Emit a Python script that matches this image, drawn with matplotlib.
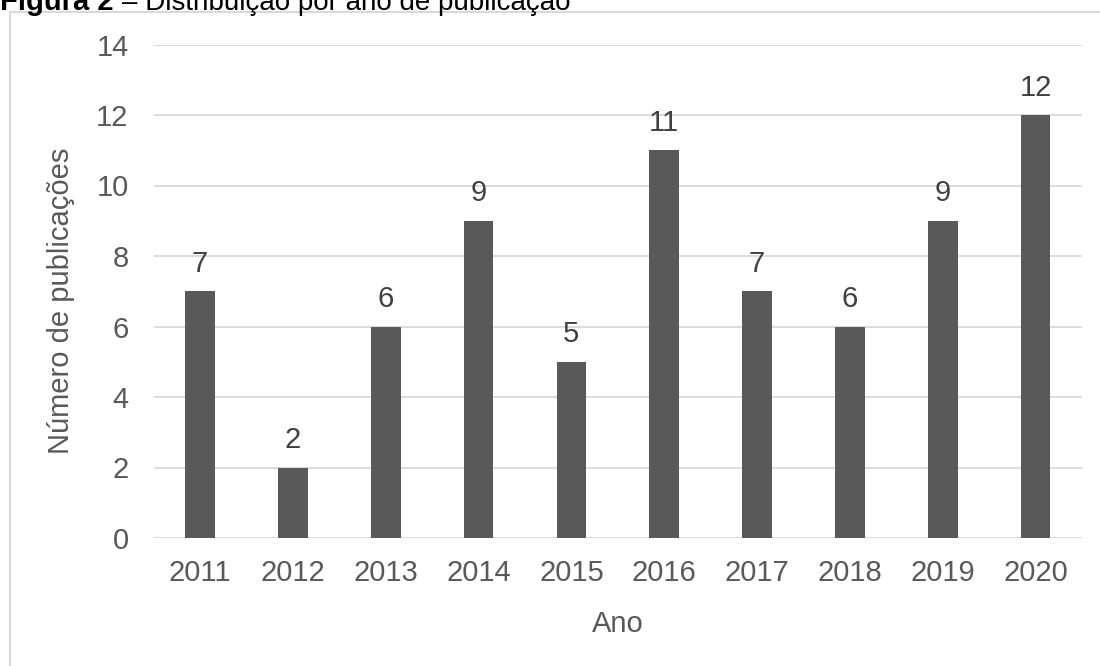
"""
Figura 2 - Distribuição por ano de publicação.

Bar chart of the number of publications per year, Excel-like styling.
"""

import matplotlib
matplotlib.use("Agg")
import matplotlib.pyplot as plt
from matplotlib.lines import Line2D

# Data
YEARS = ["2011", "2012", "2013", "2014", "2015", "2016", "2017", "2018", "2019", "2020"]
PUBLICATIONS = [7, 2, 6, 9, 5, 11, 7, 6, 9, 12]
Y_TICKS = [0, 2, 4, 6, 8, 10, 12, 14]

TITLE_BOLD = "Figura 2"
TITLE_REST = "– Distribuição por ano de publicação"
X_LABEL = "Ano"
Y_LABEL = "Número de publicações"

BAR_COLOR = "#595959"
GRID_COLOR = "#d9d9d9"
TICK_COLOR = "#595959"
LABEL_COLOR = "#404040"
FONT_SIZE = 21

plt.rcParams['font.family'] = ['Liberation Sans', 'DejaVu Sans']

W, H = 1100, 666


def main():
    fig = plt.figure(figsize=(W / 100, H / 100), dpi=100)
    ax = fig.add_axes([153.6 / W, 1 - 538 / H, (1082 - 153.6) / W, (538 - 44.5) / H])

    x = range(len(YEARS))
    ax.bar(x, PUBLICATIONS, width=0.32, color=BAR_COLOR, zorder=3)

    for xi, v in zip(x, PUBLICATIONS):
        ax.annotate(str(v), (xi, v), xytext=(0, 14), textcoords="offset points",
                    ha="center", va="baseline", fontsize=FONT_SIZE, color=LABEL_COLOR)

    ax.set_xlim(-0.5, len(YEARS) - 0.5)
    ax.set_ylim(0, 14)
    ax.set_yticks(Y_TICKS)
    ax.set_xticks(list(x))
    ax.set_xticklabels(YEARS)
    ax.tick_params(axis="both", length=0, labelsize=FONT_SIZE, labelcolor=TICK_COLOR)
    ax.tick_params(axis="y", pad=18)
    ax.tick_params(axis="x", pad=15)

    ax.grid(axis="y", color=GRID_COLOR, linewidth=1.3, zorder=0)
    for s in ax.spines.values():
        s.set_visible(False)

    ax.set_xlabel(X_LABEL, fontsize=FONT_SIZE, color=TICK_COLOR, labelpad=17)
    ax.set_ylabel(Y_LABEL, fontsize=FONT_SIZE, color=TICK_COLOR)
    ax.yaxis.set_label_coords(-0.085, 0.48)

    # Frame around the figure area
    fig.add_artist(Line2D([9.5 / W, 9.5 / W], [0, 1 - 12 / H], transform=fig.transFigure,
                          color=GRID_COLOR, linewidth=1.5))
    fig.add_artist(Line2D([9.5 / W, 1], [1 - 12 / H, 1 - 12 / H], transform=fig.transFigure,
                          color=GRID_COLOR, linewidth=1.5))

    # Caption, cut at the top edge like the source
    fig.text(0, 1 - 10 / H, TITLE_BOLD, fontsize=21, fontweight="bold",
             color="black", va="baseline", ha="left")
    fig.text(122 / W, 1 - 10 / H, TITLE_REST, fontsize=20,
             color="black", va="baseline", ha="left")

    fig.savefig("out.png", dpi=100)
    plt.close(fig)


if __name__ == "__main__":
    main()
